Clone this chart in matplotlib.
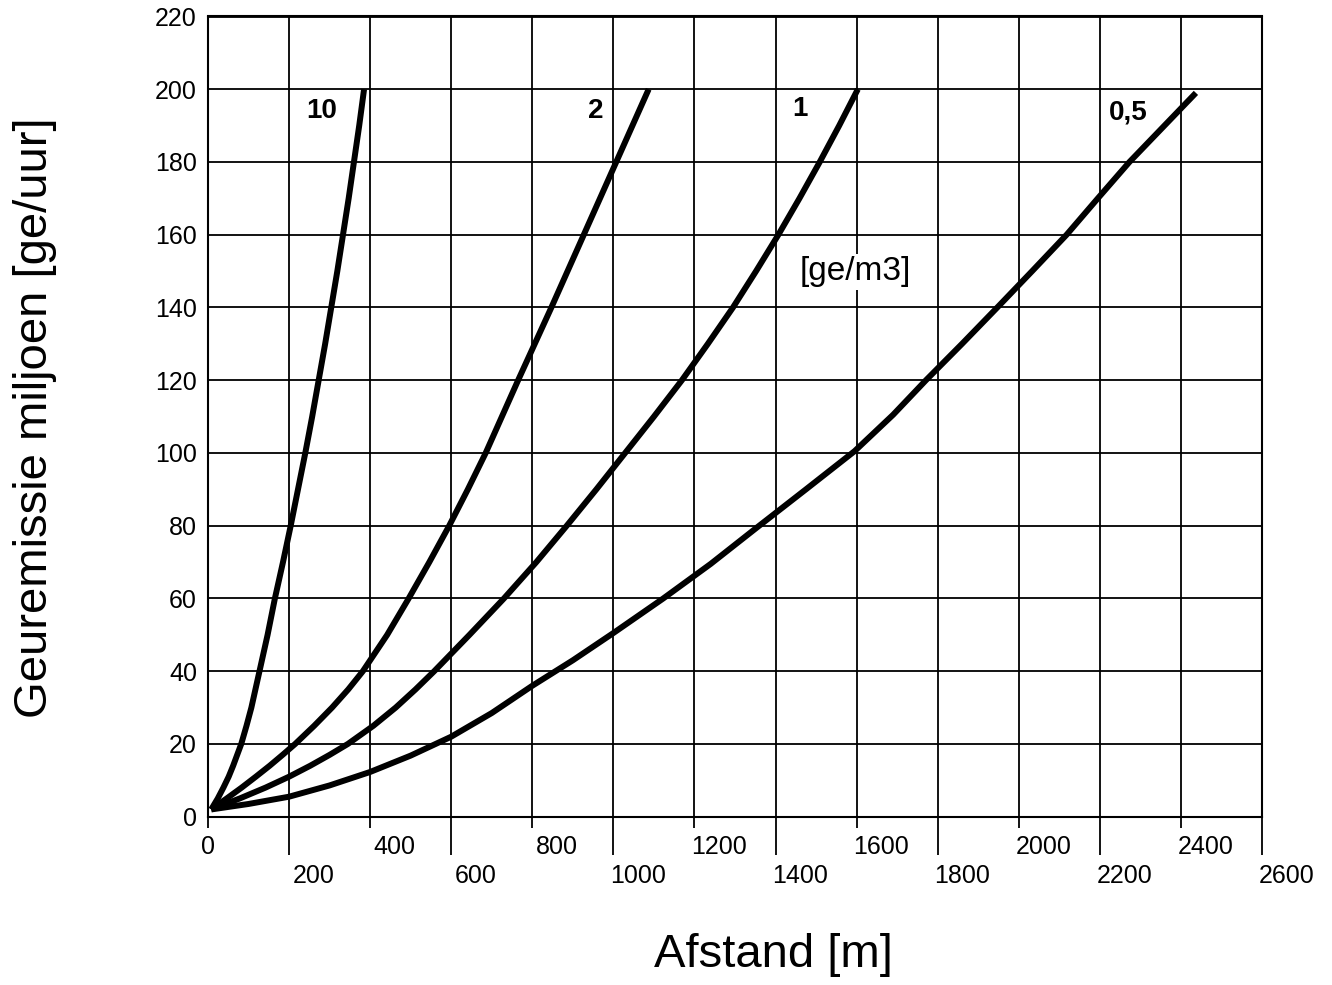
import matplotlib
matplotlib.use('Agg')
import matplotlib.pyplot as plt
from matplotlib import font_manager as fm

names = {f.name for f in fm.fontManager.ttflist}
BASE = 'Liberation Sans' if 'Liberation Sans' in names else 'DejaVu Sans'
plt.rcParams['font.family'] = BASE

# ---- data ----
x_ticks_upper = [0, 400, 800, 1200, 1600, 2000, 2400]
x_ticks_lower = [200, 600, 1000, 1400, 1800, 2200, 2600]
y_ticks = [0, 20, 40, 60, 80, 100, 120, 140, 160, 180, 200, 220]

curve_labels = ['10', '2', '1', '0,5']

c10_y = [2, 5, 8, 11, 14, 17, 20, 25, 30, 35, 40, 50, 60, 70, 80, 90, 100,
         110, 120, 130, 140, 150, 160, 170, 180, 190, 200]
c10_x = [8, 24, 38, 51, 62, 72, 82, 95, 107, 117, 127, 147, 165, 185, 204, 222, 240,
         257, 273, 289, 304, 319, 333, 347, 360, 373, 385]

c2_y = [2, 5, 8, 11, 14, 17, 20, 25, 30, 35, 40, 50, 60, 70, 80, 90, 100,
        110, 120, 130, 140, 150, 160, 170, 180, 190, 200]
c2_x = [8, 46, 83, 118, 152, 184, 215, 262, 306, 346, 382, 442, 495, 546, 595, 641, 685,
        725, 765, 806, 847, 887, 927, 967, 1007, 1047, 1087]

c1_y = [2, 5, 8, 11, 14, 17, 20, 25, 30, 35, 40, 50, 60, 70, 80, 90, 100,
        110, 120, 130, 140, 150, 160, 170, 180, 190, 200]
c1_x = [8, 78, 142, 200, 252, 300, 345, 408, 463, 512, 558, 645, 730, 810, 885, 958, 1029,
        1100, 1169, 1233, 1295, 1352, 1407, 1459, 1509, 1557, 1603]

c05_x = [8, 100, 200, 300, 400, 500, 600, 700, 800, 900, 1000, 1123, 1240, 1354,
         1475, 1595, 1690, 1771, 1860, 1947, 2033, 2118, 2195, 2273, 2355, 2437]
c05_y = [2, 3.5, 5.5, 8.6, 12.3, 16.8, 22, 28.5, 36, 43, 50.5, 60, 69.5, 79.5,
         90, 100.5, 110.5, 120, 130, 140, 150, 160, 170, 180, 189.5, 199]

curves_x = [c10_x, c2_x, c1_x, c05_x]
curves_y = [c10_y, c2_y, c1_y, c05_y]

x_title = 'Afstand [m]'
y_title = 'Geuremissie miljoen [ge/uur]'
unit_label = '[ge/m3]'

# ---- figure ----
W, H = 1332, 985
L, R, T, B = 208, 1262, 16.5, 816.7
fig = plt.figure(figsize=(W / 100, H / 100), dpi=100)
ax = fig.add_axes([L / W, 1 - B / H, (R - L) / W, (B - T) / H])
ax.set_xlim(0, 2600)
ax.set_ylim(0, 220)

ax.set_xticks(x_ticks_upper)
ax.set_xticks(x_ticks_lower, minor=True)
ax.set_yticks(y_ticks)
ax.grid(True, which='both', axis='x', color='black', lw=1.3)
ax.grid(True, which='major', axis='y', color='black', lw=1.3)
ax.set_axisbelow(True)

ax.tick_params(axis='x', which='major', length=8, width=1.3, direction='out',
               labelbottom=False, color='black')
ax.tick_params(axis='x', which='minor', length=27, width=1.3, direction='out',
               labelbottom=False, color='black')
ax.tick_params(axis='y', length=0, pad=8, labelsize=18)

for sp in ax.spines.values():
    sp.set_color('black')
    sp.set_linewidth(1.5)

# x tick labels (two staggered rows, slightly offset as in the original)
for v in x_ticks_upper:
    off = 0 if v == 0 else 17.6
    ax.annotate(str(v), xy=(v, 0), xycoords=('data', 'axes fraction'),
                xytext=(off, -21.6), textcoords='offset points',
                ha='center', va='center', fontsize=18, annotation_clip=False)
for v in x_ticks_lower:
    ax.annotate(str(v), xy=(v, 0), xycoords=('data', 'axes fraction'),
                xytext=(17.6, -43), textcoords='offset points',
                ha='center', va='center', fontsize=18, annotation_clip=False)

# curves
for xs, ys in zip(curves_x, curves_y):
    ax.plot(xs, ys, color='black', lw=4.3, solid_joinstyle='round',
            solid_capstyle='butt', zorder=3, clip_on=False)

# curve labels
label_pos = [(281, 194), (957, 194), (1460, 194.5), (2269, 193.5)]
for lab, (lx, ly) in zip(curve_labels, label_pos):
    ax.text(lx, ly, lab, fontweight='bold', fontsize=20,
            ha='center', va='center', zorder=4)

ax.text(1598, 149.8, unit_label, fontsize=24, ha='center',
        va='center', zorder=4,
        bbox=dict(facecolor='white', edgecolor='none', pad=2))

fig.text(35 / W, 1 - 418 / H, y_title, rotation=90, ha='center', va='center',
         fontsize=34)
fig.text(773.5 / W, 1 - 955 / H, x_title, ha='center', va='center',
         fontsize=34)

fig.savefig('out.png', dpi=100)
